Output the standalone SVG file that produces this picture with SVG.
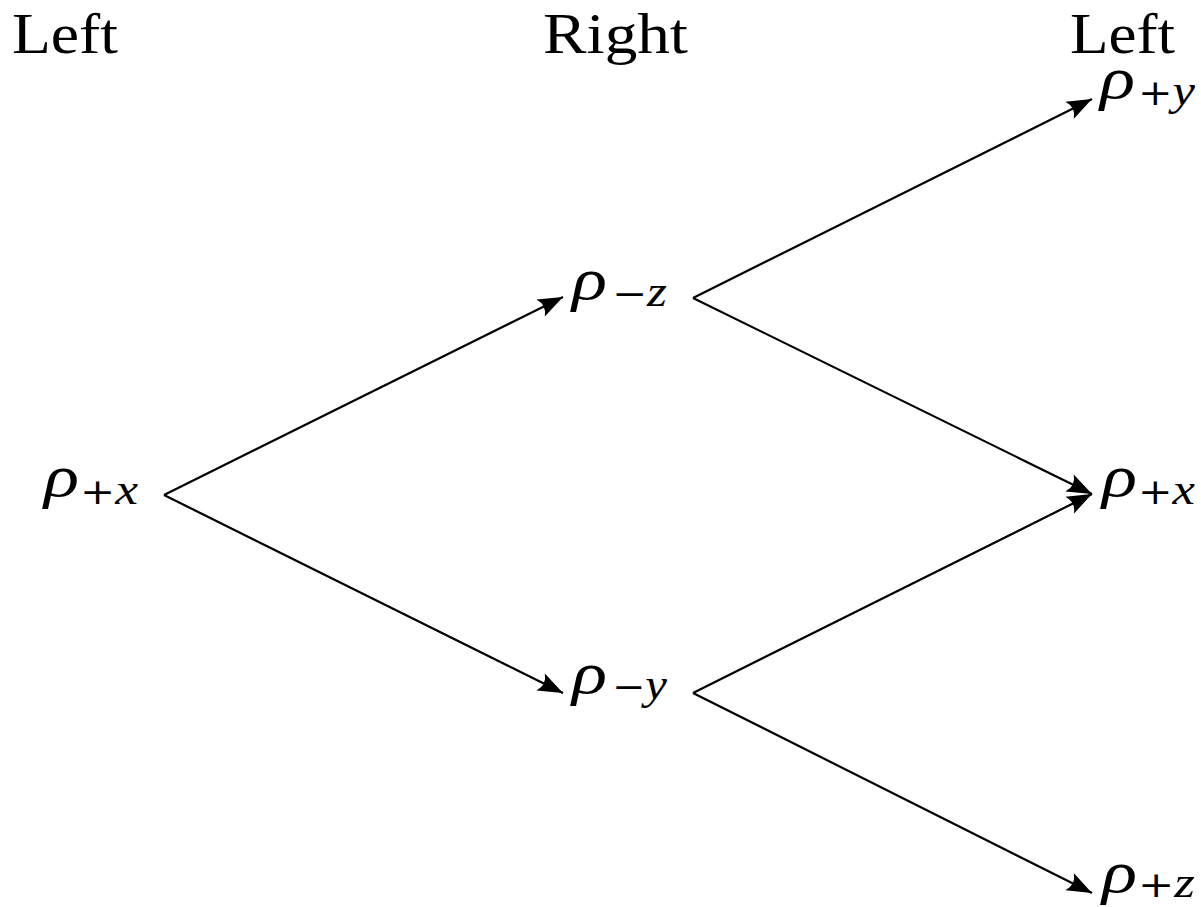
<svg xmlns="http://www.w3.org/2000/svg" width="1201" height="907" viewBox="0 0 1201 907">
<style>
.hdr{font-family:"Liberation Serif","DejaVu Serif",serif;font-size:58px;fill:#000}
.rho{font-family:"Liberation Serif","DejaVu Serif",serif;font-style:italic;font-size:60px;fill:#000}
.sub{font-family:"Liberation Serif","DejaVu Serif",serif;font-size:44px;fill:#000}
.sub .op{font-family:"DejaVu Serif","Liberation Serif",serif;font-size:36px}
.sub .v{font-style:italic}
.edge{fill:none;stroke:#000;stroke-width:2.2}
</style>
<defs>
<marker id="arr" markerUnits="userSpaceOnUse" orient="auto" markerWidth="30" markerHeight="24" viewBox="-28 -12 30 24" refX="0" refY="0" overflow="visible">
<path d="M0,0 L-25,-9.5 Q-18,0 -25,9.5 Z" fill="#000"/>
</marker>
</defs>
<g id="headers">
<text class="hdr" x="12" y="53" textLength="106" lengthAdjust="spacingAndGlyphs">Left</text>
<text class="hdr" x="543" y="53" textLength="145" lengthAdjust="spacingAndGlyphs">Right</text>
<text class="hdr" x="1070" y="53" textLength="105" lengthAdjust="spacingAndGlyphs">Left</text>
</g>
<g id="connectors">
<path class="edge" d="M164,495 L563,297" marker-end="url(#arr)"/>
<path class="edge" d="M164,495 L563,693" marker-end="url(#arr)"/>
<path class="edge" d="M693,298 L1092,99" marker-end="url(#arr)"/>
<path class="edge" d="M693,298 L1092,494" marker-end="url(#arr)"/>
<path class="edge" d="M693,693 L1092,494" marker-end="url(#arr)"/>
<path class="edge" d="M693,693 L1092,893" marker-end="url(#arr)"/>
</g>
<g id="node-px-left">
<text class="rho" x="44" y="496" textLength="35" lengthAdjust="spacingAndGlyphs">ρ</text>
<text class="sub" x="80" y="504" textLength="58" lengthAdjust="spacingAndGlyphs"><tspan class="op">+</tspan><tspan class="v">x</tspan></text>
</g>
<g id="node-mz">
<text class="rho" x="572" y="299" textLength="35" lengthAdjust="spacingAndGlyphs">ρ</text>
<text class="sub" x="612" y="306" textLength="55" lengthAdjust="spacingAndGlyphs"><tspan class="op">−</tspan><tspan class="v">z</tspan></text>
</g>
<g id="node-my">
<text class="rho" x="572" y="693" textLength="35" lengthAdjust="spacingAndGlyphs">ρ</text>
<text class="sub" x="612" y="699" textLength="55" lengthAdjust="spacingAndGlyphs"><tspan class="op">−</tspan><tspan class="v">y</tspan></text>
</g>
<g id="node-py">
<text class="rho" x="1100" y="98" textLength="35" lengthAdjust="spacingAndGlyphs">ρ</text>
<text class="sub" x="1138" y="105" textLength="57" lengthAdjust="spacingAndGlyphs"><tspan class="op">+</tspan><tspan class="v">y</tspan></text>
</g>
<g id="node-px-right">
<text class="rho" x="1102" y="496" textLength="35" lengthAdjust="spacingAndGlyphs">ρ</text>
<text class="sub" x="1138" y="504" textLength="57" lengthAdjust="spacingAndGlyphs"><tspan class="op">+</tspan><tspan class="v">x</tspan></text>
</g>
<g id="node-pz">
<text class="rho" x="1102" y="892" textLength="35" lengthAdjust="spacingAndGlyphs">ρ</text>
<text class="sub" x="1138" y="897" textLength="57" lengthAdjust="spacingAndGlyphs"><tspan class="op">+</tspan><tspan class="v">z</tspan></text>
</g>
</svg>
